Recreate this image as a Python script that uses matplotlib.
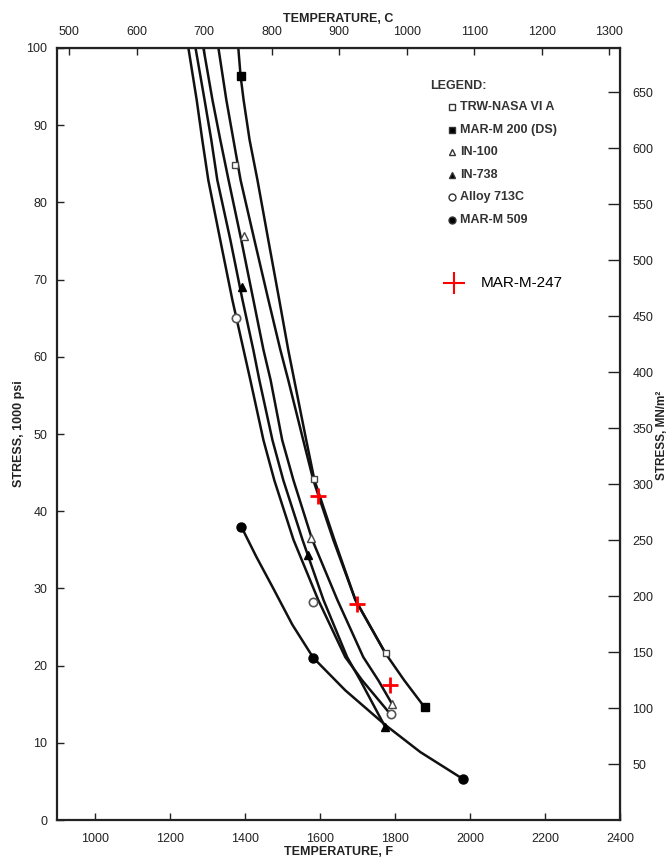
import numpy as np
import matplotlib
matplotlib.use('Agg')
import matplotlib.pyplot as plt
from matplotlib import rcParams
rcParams['font.family'] = ['Liberation Sans', 'DejaVu Sans']

# curves (temperature F, stress 1000 psi)
t_713c = [1250, 1272, 1287, 1303, 1335, 1367, 1397, 1415, 1450, 1479, 1530, 1596, 1668, 1713, 1785]
s_713c = [100, 93.3, 88.1, 82.9, 75.1, 67.4, 60.9, 57.0, 49.2, 44.0, 36.3, 28.5, 21.1, 18.1, 13.9]
t_in738 = [1269, 1293, 1311, 1327, 1362, 1394, 1423, 1439, 1474, 1503, 1554, 1610, 1673, 1708, 1775]
s_in738 = [100, 93.3, 88.1, 82.9, 75.1, 67.4, 60.9, 57.0, 49.2, 44.0, 36.3, 28.5, 21.1, 18.1, 12.0]
t_in100 = [1290, 1314, 1335, 1357, 1391, 1423, 1450, 1469, 1500, 1530, 1580, 1647, 1716, 1756, 1793]
s_in100 = [100, 93.3, 88.1, 82.9, 75.1, 67.4, 60.9, 57.0, 49.2, 44.0, 36.3, 28.5, 21.1, 18.1, 15.0]
t_trw = [1330, 1351, 1370, 1389, 1426, 1463, 1495, 1516, 1556, 1583, 1636, 1695, 1775]
s_trw = [100, 93.3, 88.1, 82.9, 75.1, 67.4, 60.9, 57.0, 49.2, 44.0, 36.3, 28.5, 21.6]
t_m200 = [1383, 1389, 1397, 1413, 1434, 1463, 1492, 1516, 1532, 1564, 1586, 1639, 1695, 1775, 1825, 1881]
s_m200 = [100, 96.4, 93.3, 88.1, 82.9, 75.1, 67.4, 60.9, 57.0, 49.2, 44.0, 36.3, 28.5, 21.6, 18.1, 14.5]
t_m509 = [1391, 1431, 1474, 1527, 1583, 1668, 1775, 1868, 1982]
s_m509 = [38.0, 34.1, 30.2, 25.3, 21.0, 16.8, 12.3, 8.8, 5.3]

# test points
pt_trw_t, pt_trw_s = [1375, 1586, 1777], [84.8, 44.2, 21.6]
pt_m200_t, pt_m200_s = [1389, 1881], [96.4, 14.6]
pt_in100_t, pt_in100_s = [1397, 1578, 1793], [75.6, 36.5, 15.0]
pt_in738_t, pt_in738_s = [1394, 1570, 1775], [69.0, 34.3, 12.0]
pt_713c_t, pt_713c_s = [1378, 1583, 1791], [65.0, 28.2, 13.7]
pt_m509_t, pt_m509_s = [1391, 1583, 1982], [38.0, 21.0, 5.3]
pt_m247_t, pt_m247_s = [1596, 1700, 1788], [42.0, 28.0, 17.5]

xticks_f = [1000, 1200, 1400, 1600, 1800, 2000, 2200, 2400]
xticks_c = [500, 600, 700, 800, 900, 1000, 1100, 1200, 1300]
yticks_ksi = [0, 10, 20, 30, 40, 50, 60, 70, 80, 90, 100]
yticks_mpa = [50, 100, 150, 200, 250, 300, 350, 400, 450, 500, 550, 600, 650]

legend_names = ['TRW-NASA VI A', 'MAR-M 200 (DS)', 'IN-100', 'IN-738', 'Alloy 713C', 'MAR-M 509']
legend_marks = ['s', 's', '^', '^', 'o', 'o']
legend_fill = [False, True, False, True, False, True]

fig = plt.figure(figsize=(6.71, 8.63), dpi=100)
ax = fig.add_axes([0.085, 0.0498, 0.839, 0.8946])
tc = '#222222'
lw = 1.8

for t, s in [(t_713c, s_713c), (t_in738, s_in738), (t_in100, s_in100),
             (t_trw, s_trw), (t_m200, s_m200), (t_m509, s_m509)]:
	ax.plot(t, s, color='#111111', lw=lw, solid_joinstyle='round', solid_capstyle='round', zorder=2)

ax.plot(pt_trw_t, pt_trw_s, 's', ms=5, mfc='white', mec='#444444', mew=1, zorder=3)
ax.plot(pt_m200_t, pt_m200_s, 's', ms=5.5, mfc='black', mec='black', zorder=3)
ax.plot(pt_in100_t, pt_in100_s, '^', ms=5.5, mfc='white', mec='#444444', mew=1, zorder=3)
ax.plot(pt_in738_t, pt_in738_s, '^', ms=5.5, mfc='black', mec='black', zorder=3)
ax.plot(pt_713c_t, pt_713c_s, 'o', ms=6, mfc='white', mec='#555555', mew=1.2, zorder=3)
ax.plot(pt_m509_t, pt_m509_s, 'o', ms=6.5, mfc='black', mec='black', zorder=3)
ax.plot(pt_m247_t, pt_m247_s, '+', ms=11, mec='red', mew=2, zorder=4)

ax.set_xlim(900, 2400)
ax.set_ylim(0, 100)
ax.set_xticks(xticks_f)
ax.set_yticks(yticks_ksi)
ax.tick_params(direction='in', length=5, width=1, labelsize=9, colors=tc)
ax.tick_params(axis='x', pad=9)
ax.tick_params(axis='y', pad=7)
for sp in ax.spines.values():
	sp.set_linewidth(1.6)
	sp.set_color('#222222')
ax.set_xlabel('TEMPERATURE, F', fontsize=9, fontweight='bold', color=tc, labelpad=1)
ax.set_ylabel('STRESS, 1000 psi', fontsize=9, fontweight='bold', color=tc, labelpad=1)

top = ax.secondary_xaxis('top', functions=(lambda f: (f - 32) / 1.8, lambda c: c * 1.8 + 32))
top.set_xticks(xticks_c)
top.tick_params(direction='in', length=5, width=1, labelsize=9, colors=tc, pad=7)
top.set_xlabel('TEMPERATURE, C', fontsize=9, fontweight='bold', color=tc, labelpad=3)

right = ax.secondary_yaxis('right', functions=(lambda k: k * 6.895, lambda m: m / 6.895))
right.set_yticks(yticks_mpa)
right.tick_params(direction='in', length=9, width=1, labelsize=9, colors=tc, pad=9)
fig.text(0.9866, 0.496, 'STRESS, MN/m²', rotation=90, ha='center', va='center',
	fontsize=8.5, fontweight='bold', color=tc)

# legend drawn by hand
ax.text(0.6625, 0.951, 'LEGEND:', transform=ax.transAxes, fontsize=9, fontweight='bold',
	color='#333333', va='center')
for i in range(len(legend_names)):
	y = 0.9236 - i * 0.0293
	ax.plot(0.7016, y, legend_marks[i], transform=ax.transAxes, ms=5,
		mfc='black' if legend_fill[i] else 'white', mec='#333333', mew=1, clip_on=False)
	ax.text(0.716, y, legend_names[i], transform=ax.transAxes, fontsize=9, fontweight='bold',
		color='#333333', va='center')
ax.plot(0.705, 0.6956, '+', transform=ax.transAxes, ms=16, mec='red', mew=1.5)
ax.text(0.753, 0.6956, 'MAR-M-247', transform=ax.transAxes, fontsize=11, color='black', va='center')

plt.savefig('out.png', dpi=100)
